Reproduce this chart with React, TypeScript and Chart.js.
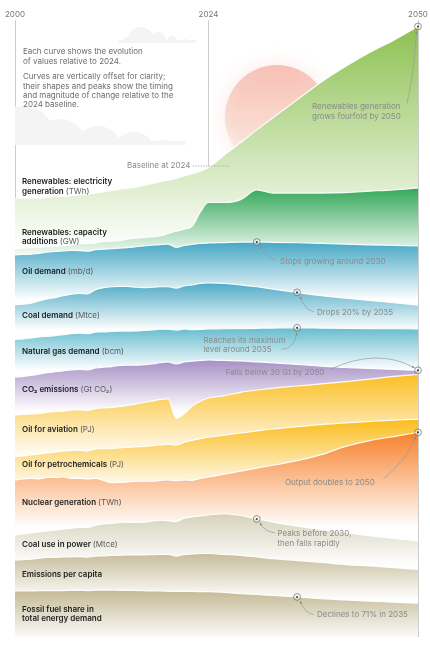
import { useEffect, useRef } from 'react';
import { Chart, registerables } from 'chart.js';

Chart.register(...registerables);

// ---------------- DATA (index, 2024 = 100) ----------------
const YEARS = [
  2000, 2001, 2002, 2003, 2004, 2005, 2006, 2007, 2008, 2009,
  2010, 2011, 2012, 2013, 2014, 2015, 2016, 2017, 2018, 2019,
  2020, 2021, 2022, 2023, 2024,
  2026, 2028, 2030, 2032, 2035, 2038, 2041, 2044, 2047, 2050,
];
const TICK_YEARS = [2000, 2024, 2050];

const RENEWABLES_GENERATION = [34, 34, 35, 35, 37, 38, 39, 40, 42, 43, 46, 48, 51, 54, 56, 58, 62, 66, 70, 73, 77, 82, 87, 92, 100, 127, 153, 180, 206, 244, 282, 315, 345, 371, 400];
const RENEWABLES_CAPACITY = [2, 3, 4, 5, 6, 7, 8, 10, 12, 13, 14, 17, 18, 19, 22, 24, 26, 27, 29, 34, 39, 43, 50, 80, 100, 100, 106, 127, 120, 120, 120, 121, 124, 127, 131];
const OIL_DEMAND = [74.9, 75.5, 76.3, 77.8, 80.7, 82.0, 83.0, 84.1, 83.7, 82.7, 86.0, 86.8, 87.8, 89.3, 90.2, 92.0, 93.6, 95.2, 96.5, 97.4, 90.5, 94.7, 97.1, 99.1, 100, 101, 102, 102, 101.5, 100.5, 99, 97.5, 96, 95, 94];
const COAL_DEMAND = [54, 55, 57, 62, 66, 69, 73, 76, 78, 77, 86, 90, 92, 93, 93, 91, 90, 91, 92, 92, 89, 94, 96, 99, 100, 99, 96, 92, 87, 80, 73, 68, 63, 58, 53];
const GAS_DEMAND = [78, 79, 81, 83, 84.5, 86, 88, 90, 91, 90, 93.5, 94, 95, 95.5, 95.5, 96, 97, 98, 99.5, 99.5, 97.5, 100, 98.5, 99, 100, 100.5, 101, 101.5, 102, 102.5, 102, 101.5, 101, 100.5, 100];
const CO2_EMISSIONS = [64, 65, 67, 70, 73, 75, 77, 79, 80, 79, 83, 85, 86, 88.5, 89, 89, 90, 91.5, 94.5, 96, 91.5, 96, 97.5, 99, 100, 99, 98, 96, 94, 90.5, 87, 84, 82, 80, 78];
const OIL_AVIATION = [64, 65, 66, 67, 70, 71, 72, 74.5, 74.5, 73.5, 77.5, 79, 80, 82, 84, 87, 90.5, 93.5, 97, 98, 57, 67, 83, 93, 100, 105, 112, 117, 121, 125.5, 130, 135, 140, 146, 150];
const OIL_PETROCHEMICALS = [58, 60, 62, 64, 66, 68, 70, 71, 72, 70, 74.5, 75, 75.5, 77, 78, 79, 80, 81.5, 83, 84, 83, 89, 93, 96.5, 100, 104, 108.5, 113, 117, 122, 126.5, 130, 133, 136, 138];
const NUCLEAR_GENERATION = [93.5, 96, 97, 96, 99, 99, 100, 97, 97, 96, 97, 92.5, 88, 88.5, 89.5, 90.5, 91, 91, 92.5, 94, 92, 94, 93, 97, 100, 106, 112.5, 119, 125, 135, 147.5, 165, 177.5, 186, 195];
const COAL_POWER = [57.5, 60, 62, 64, 66, 68, 70, 72, 73.5, 73.5, 78, 81, 82, 84, 85, 84, 85, 87, 89, 88, 86, 93.5, 96, 98, 100, 103, 99, 91.5, 85, 76.5, 69, 63, 56, 50, 45];
const EMISSIONS_PER_CAPITA = [86, 87, 88, 90, 91.5, 92, 92.5, 93, 93.5, 92.5, 94.5, 95, 96, 96.5, 97, 97, 97, 97.5, 98, 98, 94.5, 98, 99, 100, 100, 98, 96, 92.5, 89, 85, 81, 76.5, 73.5, 70, 66];
const FOSSIL_SHARE = [101.5, 101.5, 101.5, 102, 102.5, 102.5, 102.5, 103, 103, 102.5, 103.5, 103.5, 103.5, 103, 103, 102.5, 102, 101.5, 101.5, 101, 100.5, 100.5, 100.5, 100, 100, 98.5, 96, 94, 92, 88.75, 85, 82.5, 80, 77.5, 75.5];

const SERIES = [
  RENEWABLES_GENERATION, RENEWABLES_CAPACITY, OIL_DEMAND, COAL_DEMAND,
  GAS_DEMAND, CO2_EMISSIONS, OIL_AVIATION, OIL_PETROCHEMICALS,
  NUCLEAR_GENERATION, COAL_POWER, EMISSIONS_PER_CAPITA, FOSSIL_SHARE,
];

// label lines: bold part | regular unit part
const SERIES_LABELS = [
  ['Renewables: electricity', 'generation |(TWh)'],
  ['Renewables: capacity', 'additions |(GW)'],
  ['Oil demand |(mb/d)'],
  ['Coal demand |(Mtce)'],
  ['Natural gas demand |(bcm)'],
  ['CO\u2082 emissions |(Gt CO\u2082)'],
  ['Oil for aviation |(PJ)'],
  ['Oil for petrochemicals |(PJ)'],
  ['Nuclear generation |(TWh)'],
  ['Coal use in power |(Mtce)'],
  ['Emissions per capita'],
  ['Fossil fuel share in', 'total energy demand'],
];

const INTRO_LINES = [
  ['Each curve shows the evolution', 'of values relative to 2024.'],
  ['Curves are vertically offset for clarity;', 'their shapes and peaks show the timing', 'and magnitude of change relative to the', '2024 baseline.'],
];

const ANNOTATIONS = [
  { series: 0, year: 2050, text: ['Renewables generation', 'grows fourfold by 2050'], tx: -106, ty: 80.5, arrow: [[-11, 77], [-4, 45], [-1.5, 4.5]] },
  { series: 2, year: 2030, text: ['Stops growing around 2030'], tx: 23.3, ty: 19.5, arrow: [[19.6, 17.5], [8, 16.5], [3.2, 4]] },
  { series: 3, year: 2035, text: ['Drops 20% by 2035'], tx: 20, ty: 20, arrow: [[17, 19.4], [8, 18], [3, 4.2]] },
  { series: 4, year: 2035, text: ['Reaches its maximum', 'level around 2035'], tx: -93.7, ty: 12.5, arrow: [[-16, 21.5], [-2, 21], [-0.3, 4.6]] },
  { series: 5, year: 2050, text: ['Falls below 30 Gt by 2050'], tx: -192.3, ty: 2.2, arrow: [[-88, -1], [-40, -23], [-3.5, -2.5]] },
  { series: 8, year: 2050, text: ['Output doubles to 2050'], tx: -133, ty: 49.8, arrow: [[-34.7, 46.5], [-12, 29], [-2.2, 4.2]] },
  { series: 9, year: 2030, text: ['Peaks before 2030,', 'then falls rapidly'], tx: 20.6, ty: 15, arrow: [[18, 13.7], [8, 13], [3.2, 3.8]] },
  { series: 11, year: 2035, text: ['Declines to 71% in 2035'], tx: 20, ty: 18, arrow: [[17, 17.5], [8, 17], [3, 4]] },
];

// ---------------- LAYOUT & STYLE ----------------
const W = 430;
const H = 650;
const CHART_TOP = 20;
const CHART_BOTTOM = 637;
const CHART_LEFT = 15;
const CHART_RIGHT = 418;
const PX_PER_POINT = 0.47;
const Y_MAX = (CHART_BOTTOM - CHART_TOP) / PX_PER_POINT;
// pixel row of each ridge's 2024 baseline
const RIDGE_BASE_PX = [167.5, 202.5, 243, 283, 329, 360, 398, 437, 477, 515, 553.5, 591.7];
const BASE_LEVEL = RIDGE_BASE_PX.map((px) => (CHART_BOTTOM - px) / PX_PER_POINT);
const FADE_PX = [50, 10, 45, 25, 31, 35, 40, 33, 45, 25, 30, 37];
const COLORS = [
  '#8dc153', '#34a85a', '#45a8c5', '#4fabc6', '#66bccf', '#a690c4',
  '#fbbf24', '#fbbd1c', '#f6812b', '#d6d2bb', '#c7bd9b', '#c4b995',
];
const LABEL_DY = [[14.5, 24], [30, 39.5], [29], [33], [22.5], [29.3], [31.3], [28], [25.7], [30], [21], [17.5, 27]];
const LABEL_X = 22;
const INTRO_X = 23;
const INTRO_Y = [52, 77];
const LINE_H = 9.3;
const FS = 8;
const FONT = 'Inter, Lato, sans-serif';
const SUN = { cx: 277, cy: 117, r: 52 };
const CLOUDS = [
  { base: 43, circles: [[127, 42, 5], [141, 40, 13], [158, 40, 8], [172, 41, 5], [185, 42, 3]], rect: [118, 40, 78, 3] },
  { base: 145, circles: [[22, 140, 34], [60, 146, 27], [98, 150, 24], [134, 154, 22], [162, 157, 17], [178, 158, 12]], rect: [15, 141, 170, 4] },
];

const makeFill = (i: number) => (context: any) => {
  const chart = context.chart;
  const area = chart.chartArea;
  const ys = chart.scales && chart.scales.y;
  if (!area || !ys) return COLORS[i];
  const vals = SERIES[i];
  const top = ys.getPixelForValue(BASE_LEVEL[i] + Math.max(...vals) - 100);
  const low = ys.getPixelForValue(BASE_LEVEL[i] + Math.min(...vals) - 100) + FADE_PX[i];
  const g = chart.ctx.createLinearGradient(0, top, 0, low);
  g.addColorStop(0, COLORS[i]);
  g.addColorStop(1, '#ffffff');
  return g;
};

const decorPlugin = {
  id: 'ridgeDecor',
  beforeDatasetsDraw(chart: any) {
    const { ctx, chartArea: a } = chart;
    ctx.save();
    ctx.beginPath();
    ctx.rect(a.left, a.top, a.right - a.left, a.bottom - a.top);
    ctx.clip();
    // sun glow
    const { cx, cy, r } = SUN;
    const glow = ctx.createRadialGradient(cx, cy, r * 0.8, cx, cy, r + 22);
    glow.addColorStop(0, 'rgba(245,180,165,0.3)');
    glow.addColorStop(1, 'rgba(255,255,255,0)');
    ctx.fillStyle = glow;
    ctx.beginPath();
    ctx.arc(cx, cy, r + 22, 0, Math.PI * 2);
    ctx.fill();
    const disk = ctx.createLinearGradient(0, cy - r, 0, cy + r);
    disk.addColorStop(0, 'rgba(244,176,160,0.75)');
    disk.addColorStop(0.55, 'rgba(248,206,192,0.6)');
    disk.addColorStop(1, 'rgba(252,236,228,0.4)');
    ctx.fillStyle = disk;
    ctx.beginPath();
    ctx.arc(cx, cy, r, 0, Math.PI * 2);
    ctx.fill();
    // clouds
    CLOUDS.forEach((cl) => {
      ctx.save();
      ctx.beginPath();
      ctx.rect(a.left, 0, W, cl.base);
      ctx.clip();
      ctx.fillStyle = '#f4f4f4';
      ctx.beginPath();
      cl.circles.forEach(([x, y, rr]) => {
        ctx.moveTo(x + rr, y);
        ctx.arc(x, y, rr, 0, Math.PI * 2);
      });
      ctx.rect(cl.rect[0], cl.rect[1], cl.rect[2], cl.rect[3]);
      ctx.fill('nonzero');
      ctx.restore();
    });
    ctx.restore();
  },
  afterDatasetsDraw(chart: any) {
    const { ctx } = chart;
    const xs = chart.scales.x;
    const ys = chart.scales.y;
    ctx.save();
    ctx.textBaseline = 'middle';
    ctx.textAlign = 'left';

    // series labels
    SERIES_LABELS.forEach((lines, i) => {
      const base = ys.getPixelForValue(BASE_LEVEL[i]);
      lines.forEach((line, j) => {
        const [bold, unit] = line.split('|');
        const y = base + LABEL_DY[i][j];
        ctx.font = `600 ${FS}px ${FONT}`;
        ctx.fillStyle = '#1d1d1d';
        ctx.fillText(bold, LABEL_X, y);
        if (unit) {
          const w = ctx.measureText(bold).width;
          ctx.font = `${FS}px ${FONT}`;
          ctx.fillStyle = '#5a5a5a';
          ctx.fillText(unit, LABEL_X + w, y);
        }
      });
    });

    // intro text
    ctx.font = `${FS}px ${FONT}`;
    ctx.fillStyle = '#6c6c6c';
    INTRO_LINES.forEach((para, p) => {
      para.forEach((t, k) => ctx.fillText(t, INTRO_X, INTRO_Y[p] + k * LINE_H));
    });

    // baseline note
    const x24 = xs.getPixelForValue(2024);
    const yb = ys.getPixelForValue(BASE_LEVEL[0]) - 1.5;
    ctx.strokeStyle = '#a8a8a8';
    ctx.lineWidth = 0.8;
    ctx.setLineDash([1.5, 1.2]);
    ctx.beginPath();
    ctx.moveTo(x24 - 16, yb);
    ctx.lineTo(x24 + 20.5, yb);
    ctx.stroke();
    ctx.setLineDash([]);
    ctx.fillStyle = '#8a8a8a';
    ctx.textAlign = 'right';
    ctx.fillText('Baseline at 2024', x24 - 18, yb);
    ctx.textAlign = 'left';

    // annotations
    ANNOTATIONS.forEach((an) => {
      const k = YEARS.indexOf(an.year);
      const v = SERIES[an.series][k];
      const mx = xs.getPixelForValue(an.year);
      const my = ys.getPixelForValue(BASE_LEVEL[an.series] + v - 100);
      const [s, c, e] = an.arrow;
      ctx.strokeStyle = '#9a9a9a';
      ctx.lineWidth = 0.7;
      ctx.beginPath();
      ctx.moveTo(mx + s[0], my + s[1]);
      ctx.quadraticCurveTo(mx + c[0], my + c[1], mx + e[0], my + e[1]);
      ctx.stroke();
      const ang = Math.atan2(e[1] - c[1], e[0] - c[0]);
      const hx = mx + e[0];
      const hy = my + e[1];
      const L = 2.6;
      const Wd = 1.3;
      ctx.fillStyle = '#8a8a8a';
      ctx.beginPath();
      ctx.moveTo(hx, hy);
      ctx.lineTo(hx - L * Math.cos(ang) + Wd * Math.sin(ang), hy - L * Math.sin(ang) - Wd * Math.cos(ang));
      ctx.lineTo(hx - L * Math.cos(ang) - Wd * Math.sin(ang), hy - L * Math.sin(ang) + Wd * Math.cos(ang));
      ctx.closePath();
      ctx.fill();
      // marker
      ctx.beginPath();
      ctx.arc(mx, my, 3.4, 0, Math.PI * 2);
      ctx.fillStyle = 'rgba(255,255,255,0.35)';
      ctx.fill();
      ctx.strokeStyle = 'rgba(100,100,100,0.85)';
      ctx.lineWidth = 0.8;
      ctx.stroke();
      ctx.beginPath();
      ctx.arc(mx, my, 1.1, 0, Math.PI * 2);
      ctx.fillStyle = '#444';
      ctx.fill();
      // text
      ctx.font = `${FS}px ${FONT}`;
      ctx.fillStyle = '#8a8a8a';
      an.text.forEach((t, j) => ctx.fillText(t, mx + an.tx, my + an.ty + j * LINE_H));
    });
    ctx.restore();
  },
};

export default function App() {
  const ref = useRef<HTMLCanvasElement | null>(null);
  useEffect(() => {
    if (!ref.current) return;
    Chart.defaults.font.family = FONT;
    const chart = new Chart(ref.current, {
      type: 'line',
      data: {
        datasets: SERIES.map((vals, i) => ({
          label: SERIES_LABELS[i].join(' ').replace(/\|/g, ''),
          data: vals.map((v, k) => ({ x: YEARS[k], y: BASE_LEVEL[i] + v - 100 })),
          order: SERIES.length - i,
          fill: 'start',
          backgroundColor: makeFill(i),
          borderColor: 'rgba(255,255,255,0.95)',
          borderWidth: 1.2,
          pointRadius: 0,
          cubicInterpolationMode: 'monotone',
        })),
      },
      options: {
        responsive: false,
        animation: false,
        events: [],
        layout: { padding: { left: CHART_LEFT, right: W - CHART_RIGHT, top: 0, bottom: H - CHART_BOTTOM } },
        plugins: { legend: { display: false }, tooltip: { enabled: false } },
        scales: {
          x: {
            type: 'linear',
            position: 'top',
            min: 2000,
            max: 2050,
            z: 1,
            afterBuildTicks: (s: any) => { s.ticks = TICK_YEARS.map((v) => ({ value: v })); },
            afterFit: (s: any) => { s.height = CHART_TOP; },
            grid: { color: 'rgba(90,90,90,0.3)', lineWidth: 1, drawTicks: false },
            border: { display: false },
            ticks: {
              padding: 0.5,
              color: '#777',
              font: { size: FS, family: FONT },
              autoSkip: false,
              maxRotation: 0,
              callback: (v: any) => String(v),
            },
          },
          y: { type: 'linear', display: false, min: 0, max: Y_MAX },
        },
      },
      plugins: [decorPlugin],
    } as any);
    return () => chart.destroy();
  }, []);
  return (
    <div style={{ position: 'absolute', left: 0, top: 0, width: W, height: H, background: '#fff' }}>
      <canvas ref={ref} width={W} height={H} style={{ display: 'block', width: W, height: H }} />
    </div>
  );
}
